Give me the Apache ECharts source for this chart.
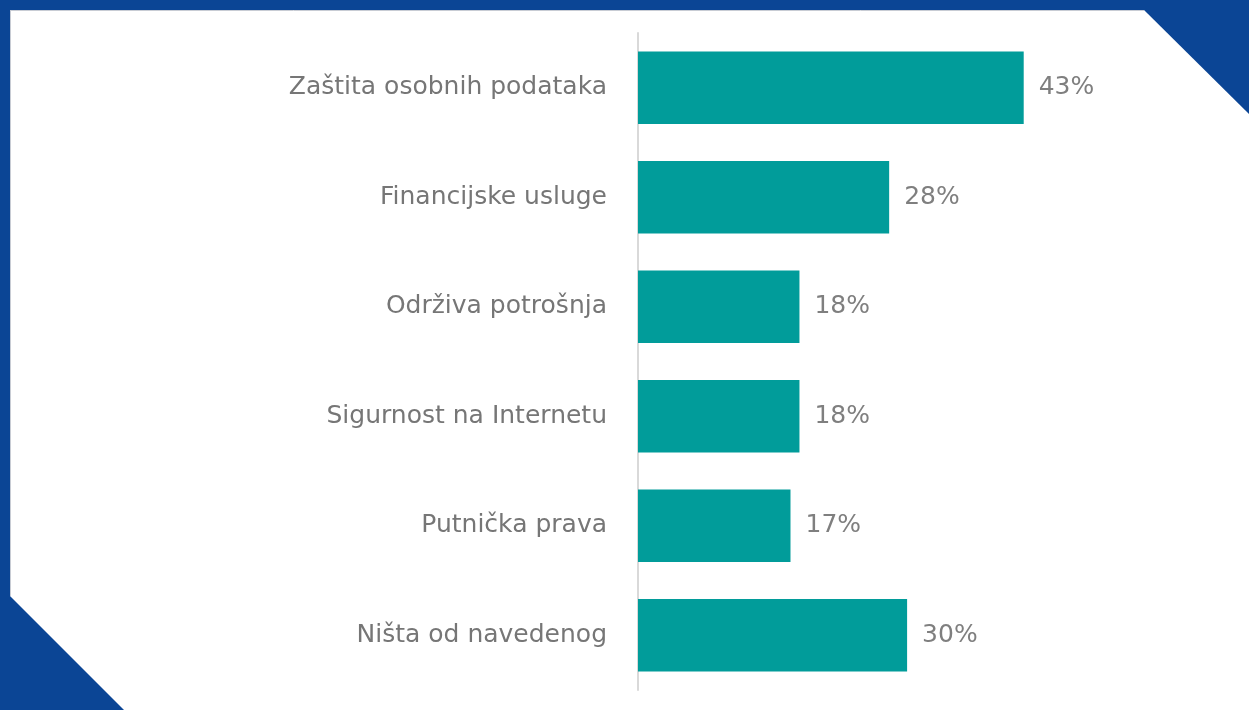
<!DOCTYPE html>
<html>
<head>
<meta charset="utf-8">
<script src="https://cdn.jsdelivr.net/npm/echarts@6/dist/echarts.min.js"></script>
<style>
html,body{margin:0;padding:0;background:#ffffff;}
#chart{width:1249px;height:710px;}
</style>
</head>
<body>
<div id="chart"></div>
<script>
const categories = ["Zaštita osobnih podataka","Financijske usluge","Održiva potrošnja","Sigurnost na Internetu","Putnička prava","Ništa od navedenog"];
const values = [43, 28, 18, 18, 17, 30];

const chart = echarts.init(document.getElementById('chart'));
const blue = '#0B4595';
chart.setOption({
  backgroundColor: '#ffffff',
  animation: false,
  graphic: [
    {type:'rect', shape:{x:0,y:0,width:1249,height:10}, style:{fill:blue}, z:-10},
    {type:'rect', shape:{x:0,y:0,width:10,height:600}, style:{fill:blue}, z:-10},
    {type:'polygon', shape:{points:[[1144,0],[1144,10],[1249,114],[1249,0]]}, style:{fill:blue}, z:-10},
    {type:'polygon', shape:{points:[[0,596],[10,596],[124,710],[0,710]]}, style:{fill:blue}, z:-10},
    {type:'line', shape:{x1:10,y1:10.5,x2:1144,y2:10.5}, style:{stroke:'#c8ccd4',lineWidth:1}, z:-9},
    {type:'line', shape:{x1:10.5,y1:10,x2:10.5,y2:596}, style:{stroke:'#c8ccd4',lineWidth:1}, z:-9}
  ],
  grid: {left: 638, top: 33, width: 448.5, height: 657},
  xAxis: {
    type: 'value', min: 0, max: 50, show: false
  },
  yAxis: {
    type: 'category', data: categories, inverse: true,
    axisLine: {show: true, lineStyle: {color: '#d9d9d9', width: 2}},
    axisTick: {show: false},
    axisLabel: {color: '#767676', fontSize: 25, fontFamily: 'DejaVu Sans', margin: 31}
  },
  series: [{
    type: 'bar', data: values, barCategoryGap: '34%',
    itemStyle: {color: '#019C9A'},
    label: {show: true, position: 'right', distance: 15, formatter: '{c}%',
      color: '#7f7f7f', fontSize: 25, fontFamily: 'DejaVu Sans'}
  }]
});
</script>
</body>
</html>
